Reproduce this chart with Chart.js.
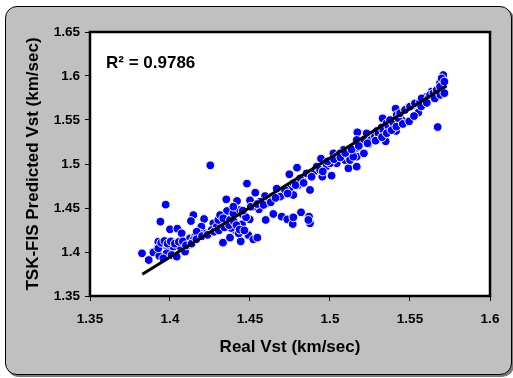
<!DOCTYPE html>
<html>
<head>
<meta charset="utf-8">
<script src="https://cdn.jsdelivr.net/npm/chart.js@4/dist/chart.umd.min.js"></script>
<style>
  html, body { margin: 0; padding: 0; background: #fff; }
  body { width: 513px; height: 378px; overflow: hidden; position: relative; }
  #frame {
    position: absolute; left: 5px; top: 6px;
    width: 505px; height: 367px;
    border: 1px solid #000; border-radius: 12px;
    background: #c0c0c0;
    box-shadow: 2px 2px 0 #7a7a7a;
    overflow: hidden;
  }
  canvas { display: block; }
</style>
</head>
<body>
<div id="frame"><canvas id="scatterChart" width="505" height="367"></canvas></div>
<script>
// measured vs predicted shear velocity (km/sec)
const realVst = [
  1.4252, 1.3973, 1.394, 1.3825, 1.3867, 1.3896, 1.3933, 1.40, 1.4046, 1.4146,
  1.4131, 1.4213, 1.4196, 1.4271, 1.4352, 1.4419, 1.4481, 1.4533, 1.45, 1.4356,
  1.4454, 1.4498, 1.445, 1.4331, 1.4375, 1.4442, 1.449, 1.4521, 1.4546, 1.4404,
  1.4429, 1.4383, 1.4556, 1.4598, 1.4646, 1.4594, 1.4633, 1.4667, 1.4708, 1.4698,
  1.4733, 1.4767, 1.4771, 1.4819, 1.4869, 1.4875, 1.4865, 1.4746, 1.4794, 1.4771,
  1.4746, 1.4829, 1.4802, 1.4875, 1.4869, 1.4904, 1.4944, 1.4952, 1.4979, 1.501,
  1.5021, 1.5042, 1.5083, 1.5094, 1.5115, 1.5167, 1.5167, 1.5146, 1.5171, 1.5171,
  1.5167, 1.5212, 1.524, 1.5229, 1.5271, 1.5292, 1.5323, 1.5348, 1.5329, 1.5354,
  1.5413, 1.541, 1.5417, 1.5448, 1.5479, 1.5521, 1.5552, 1.5583, 1.5604, 1.5635,
  1.5673, 1.5688, 1.5708, 1.5698, 1.5704,
  1.3927, 1.3958, 1.399, 1.4021, 1.3979, 1.401, 1.4063, 1.4073, 1.4104, 1.4125,
  1.4156, 1.4188, 1.4229, 1.426, 1.4292, 1.4302, 1.4313, 1.4333, 1.4375, 1.4396,
  1.4438, 1.4396, 1.4521, 1.4563, 1.4604, 1.4625, 1.4688, 1.4719, 1.4771, 1.4813,
  1.4854, 1.4917, 1.4938, 1.50, 1.5042, 1.5063, 1.5104, 1.5125, 1.5146, 1.5194,
  1.5215, 1.5256, 1.5281, 1.5302, 1.5333, 1.5365, 1.5375, 1.5396, 1.5427, 1.5438,
  1.5469, 1.55, 1.5531, 1.5563, 1.5573, 1.5615, 1.5625, 1.5646, 1.5667, 1.5677,
  1.5688, 1.5708, 1.5715,
  1.3927, 1.3958, 1.4042, 1.4115, 1.4094, 1.4073, 1.4146, 1.4167,
  1.3945, 1.3965, 1.3985, 1.4005, 1.403, 1.4055, 1.408, 1.41, 1.4135, 1.4165,
  1.42, 1.4235, 1.4275, 1.4305, 1.434, 1.437, 1.44, 1.4415, 1.4435, 1.4465,
  1.4475, 1.4455, 1.4505, 1.4545, 1.4585, 1.463, 1.466, 1.4735, 1.4785, 1.4835,
  1.4885, 1.4955, 1.4985, 1.5025, 1.5065, 1.5095, 1.5135, 1.518, 1.5235, 1.5285,
  1.5325, 1.5355, 1.5385, 1.5415, 1.5455, 1.5495, 1.5525, 1.557, 1.5605, 1.5655,
  1.569, 1.5715
]
const predictedVst = [
  1.4985, 1.4538, 1.4345, 1.3985, 1.3909, 1.3996, 1.3955, 1.4258, 1.4265, 1.442,
  1.4352, 1.4375, 1.4288, 1.4326, 1.4598, 1.458, 1.4777, 1.4674, 1.4587, 1.4466,
  1.4428, 1.4371, 1.4314, 1.4106, 1.4163, 1.4121, 1.4193, 1.4144, 1.4163, 1.425,
  1.4212, 1.4273, 1.4485, 1.4364, 1.4432, 1.4636, 1.4621, 1.472, 1.4648, 1.4402,
  1.4371, 1.4318, 1.4394, 1.4451, 1.4402, 1.4326, 1.4364, 1.4883, 1.4958, 1.4648,
  1.4723, 1.4814, 1.4761, 1.4705, 1.4875, 1.492, 1.5061, 1.4856, 1.4977, 1.4867,
  1.5121, 1.5008, 1.5159, 1.5045, 1.4951, 1.497, 1.5083, 1.5159, 1.5186, 1.536,
  1.5273, 1.5121, 1.5227, 1.5348, 1.5303, 1.5375, 1.5417, 1.5258, 1.5519, 1.5462,
  1.5375, 1.5629, 1.5557, 1.55, 1.5633, 1.567, 1.5583, 1.5727, 1.5765, 1.5822,
  1.542, 1.5924, 1.6011, 1.5973, 1.5841,
  1.4117, 1.408, 1.4042, 1.4061, 1.3985, 1.3966, 1.4061, 1.4136, 1.4098, 1.4155,
  1.4174, 1.4212, 1.4212, 1.425, 1.4288, 1.4364, 1.442, 1.4383, 1.4364, 1.4439,
  1.4477, 1.4515, 1.4515, 1.4572, 1.4553, 1.4591, 1.4629, 1.4705, 1.478, 1.4837,
  1.4894, 1.497, 1.4932, 1.5008, 1.5083, 1.5121, 1.5114, 1.5045, 1.5083, 1.5235,
  1.5273, 1.5273, 1.5311, 1.5348, 1.5386, 1.5424, 1.55, 1.5462, 1.5519, 1.5576,
  1.5614, 1.5652, 1.5689, 1.5708, 1.5746, 1.5746, 1.5784, 1.5803, 1.5841, 1.5784,
  1.5879, 1.5822, 1.5936,
  1.4042, 1.3928, 1.3947, 1.408, 1.4004, 1.4212, 1.4136, 1.4231,
  1.4105, 1.4125, 1.4095, 1.412, 1.4095, 1.4115, 1.412, 1.4075, 1.4095, 1.4145,
  1.418, 1.4195, 1.423, 1.4245, 1.428, 1.4305, 1.4345, 1.4305, 1.4255, 1.4245,
  1.4395, 1.447, 1.4515, 1.4545, 1.4535, 1.4565, 1.4615, 1.4665, 1.476, 1.4785,
  1.4855, 1.4915, 1.503, 1.5055, 1.5075, 1.5125, 1.5165, 1.5205, 1.5235, 1.5265,
  1.5305, 1.535, 1.5385, 1.5425, 1.5455, 1.5485, 1.5545, 1.5655, 1.5695, 1.5745,
  1.5785, 1.5805
]

// linear trend line ends
const trendX = [1.3827, 1.5729]
const trendY = [1.3747, 1.589]

const xTicks = [1.35, 1.4, 1.45, 1.5, 1.55, 1.6]
const xTickLabels = ['1.35', '1.4', '1.45', '1.5', '1.55', '1.6']
const yTicks = [1.35, 1.4, 1.45, 1.5, 1.55, 1.6, 1.65]
const yTickLabels = ['1.35', '1.4', '1.45', '1.5', '1.55', '1.6', '1.65']
const r2Text = 'R² = 0.9786'

const tickFont = { family: 'Liberation Sans, Arial, sans-serif', size: 13.5, weight: 'bold' }
const titleFont = { family: 'Liberation Sans, Arial, sans-serif', size: 17, weight: 'bold' }

function labelFor(ticks, labels) {
  return (v) => {
    const i = ticks.findIndex(t => Math.abs(t - v) < 1e-6)
    return i >= 0 ? labels[i] : ''
  }
}

const plotBox = {
  id: 'plotBox',
  beforeDatasetsDraw(chart) {
    const { ctx, chartArea: a } = chart
    ctx.save()
    ctx.fillStyle = '#fff'
    ctx.fillRect(a.left, a.top, a.right - a.left, a.bottom - a.top)
    ctx.restore()
  },
  afterDraw(chart) {
    const { ctx, chartArea: a } = chart
    ctx.save()
    ctx.strokeStyle = '#000'
    ctx.lineWidth = 2.5
    ctx.strokeRect(a.left, a.top, a.right - a.left, a.bottom - a.top)
    ctx.fillStyle = '#000'
    ctx.font = 'bold 17px Liberation Sans, Arial, sans-serif'
    ctx.textBaseline = 'alphabetic'
    ctx.fillText(r2Text, a.left + 16, a.top + 36)
    ctx.restore()
  }
}

const ctx = document.getElementById('scatterChart').getContext('2d')

new Chart(ctx, {
  type: 'scatter',
  data: {
    datasets: [
      {
        type: 'line',
        label: 'Trend',
        data: trendX.map((x, i) => ({ x: x, y: trendY[i] })),
        borderColor: '#000',
        borderWidth: 3,
        pointRadius: 0,
        fill: false,
        order: 0
      },
      {
        label: 'TSK-FIS',
        data: realVst.map((x, i) => ({ x: x, y: predictedVst[i] })),
        backgroundColor: '#0000ff',
        borderColor: '#fff',
        borderWidth: 1,
        pointRadius: 4.4,
        order: 1
      }
    ]
  },
  plugins: [plotBox],
  options: {
    responsive: false,
    animation: false,
    layout: { padding: { left: 0, right: 21, top: 25, bottom: 0 } },
    plugins: {
      legend: { display: false },
      tooltip: { enabled: false }
    },
    scales: {
      x: {
        type: 'linear',
        min: 1.35,
        max: 1.6,
        afterBuildTicks: (s) => { s.ticks = xTicks.map(v => ({ value: v })) },
        afterFit: (s) => { s.height = 78 },
        ticks: { font: tickFont, color: '#000', padding: 10, maxRotation: 0, callback: labelFor(xTicks, xTickLabels) },
        grid: { drawOnChartArea: false, drawTicks: true, tickLength: 5, color: '#000', lineWidth: 1 },
        border: { display: true, color: '#000', width: 2 },
        title: { display: true, text: 'Real Vst (km/sec)', font: titleFont, color: '#000', padding: { top: 0, bottom: 16 } }
      },
      y: {
        type: 'linear',
        min: 1.35,
        max: 1.65,
        afterBuildTicks: (s) => { s.ticks = yTicks.map(v => ({ value: v })) },
        afterFit: (s) => { s.width = 84 },
        ticks: { font: tickFont, color: '#000', padding: 5, callback: labelFor(yTicks, yTickLabels) },
        grid: { drawOnChartArea: false, drawTicks: true, tickLength: 5, color: '#000', lineWidth: 1 },
        border: { display: true, color: '#000', width: 2 },
        title: { display: true, text: 'TSK-FIS Predicted Vst (km/sec)', font: titleFont, color: '#000', padding: { top: 17, bottom: 0 } }
      }
    }
  }
})
</script>
</body>
</html>
